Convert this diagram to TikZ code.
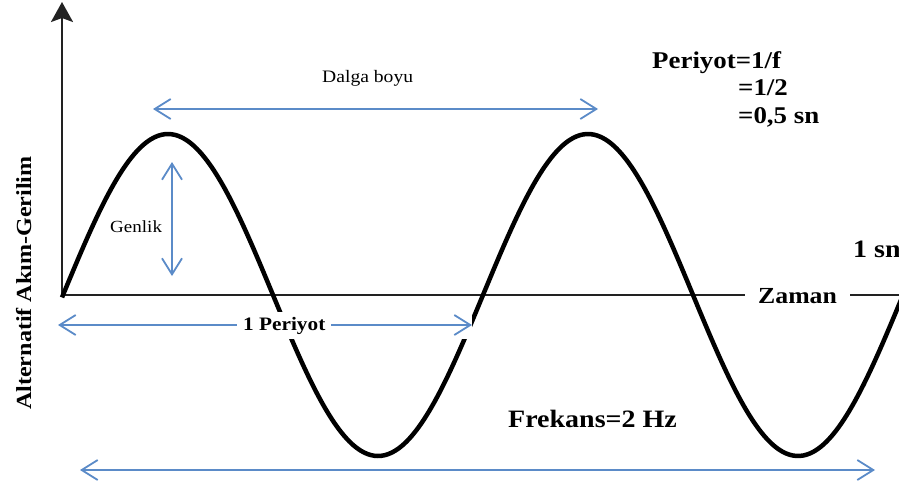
\documentclass[tikz,border=0pt]{standalone}
\usepackage{fontspec}
\setmainfont{Liberation Serif}[FakeStretch=1.12]
\usetikzlibrary{arrows.meta, positioning, calc}
\definecolor{cblue}{HTML}{5B8BC8}
\definecolor{caxis}{HTML}{222222}
\tikzset{
  axisline/.style={draw=caxis, line width=2.5pt},
  wave/.style={draw=black, line width=4.5pt, line join=round},
  bluearrow/.style={draw=cblue, line width=1.8pt, {Straight Barb[length=16pt, width=20pt]}-{Straight Barb[length=16pt, width=20pt]}},
  bigbold/.style={font=\fontsize{24}{28}\selectfont\bfseries, inner sep=0pt, anchor=base west},
  small/.style={font=\fontsize{17.5}{20}\selectfont, inner sep=0pt, anchor=base west},
}

\begin{document}
\begin{tikzpicture}[x=1pt, y=-1pt]
  \useasboundingbox (0,0) rectangle (899,488);
  % axes
  \coordinate (O) at (62,295);
  \coordinate (ytop) at (62,2);
  \coordinate (xend) at (910,295);
  \draw[axisline, -{Stealth[length=20pt, width=22pt, inset=4pt]}] (O) -- (ytop);
  \draw[axisline] (O) -- (xend);
  \node[font=\fontsize{21.5}{24}\selectfont\bfseries, rotate=90, inner sep=0pt, anchor=base west] (ylab) at (31,410) {Alternatif Akım-Gerilim};
  % the wave
  \draw[wave] plot[domain=62:910, samples=240, smooth] (\x, {295-161*sin((\x-63)/420*360)});
  \node[bigbold, font=\fontsize{23}{26}\selectfont\bfseries, fill=white, inner xsep=13pt, inner ysep=2pt] (zaman) at (745,303) {Zaman};
  % wavelength
  \coordinate (dbL) at (153,109);
  \coordinate (dbR) at (598,109);
  \draw[bluearrow] (dbL) -- (dbR);
  \node[small] (dalga) at (322,82) {Dalga boyu};
  % amplitude
  \coordinate (gTop) at (172,162);
  \coordinate (gBot) at (172,276);
  \draw[bluearrow] (gTop) -- (gBot);
  \node[small, font=\fontsize{17}{20}\selectfont] (genlik) at (110,232) {Genlik};
  % one period
  \coordinate (pL) at (58,325);
  \coordinate (pR) at (472,325);
  \draw[white, line width=27pt] (pL) -- (pR);
  \draw[bluearrow] (pL) -- (pR);
  \node[bigbold, font=\fontsize{19}{22}\selectfont\bfseries, fill=white, inner xsep=6pt, inner ysep=2pt] (plab) at (237,330) {1 Periyot};
  % one second
  \coordinate (sL) at (80,470);
  \coordinate (sR) at (875,470);
  \draw[bluearrow] (sL) -- (sR);
  \node[bigbold, font=\fontsize{25}{28}\selectfont\bfseries] (onesn) at (853,257) {1 sn};
  % formulas
  \node[bigbold] (per1) at (652,68) {Periyot=1/f};
  \node[bigbold] (per2) at (738,95) {=1/2};
  \node[bigbold] (per3) at (738,123) {=0,5 sn};
  \node[bigbold, font=\fontsize{25}{28}\selectfont\bfseries] (frek) at (508,427) {Frekans=2 Hz};
\end{tikzpicture}
\end{document}
